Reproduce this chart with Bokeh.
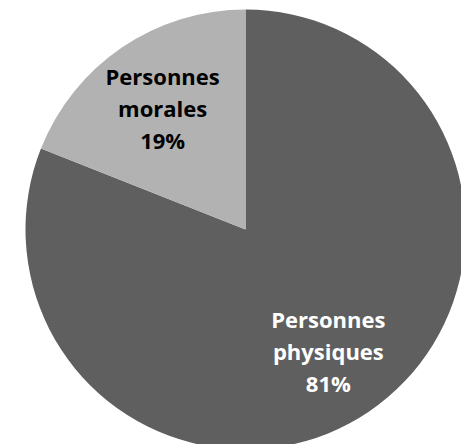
import math
from bokeh.plotting import figure
from bokeh.models import ColumnDataSource, Range1d
from bokeh.core.properties import value
from bokeh.embed import file_html
from bokeh.resources import INLINE

categories = ["Personnes physiques", "Personnes morales"]
shares = [81, 19]
label_lines = [["Personnes", "physiques", "81%"], ["Personnes", "morales", "19%"]]
colors = ["#5f5f5f", "#b2b2b2"]
text_colors = ["#ffffff", "#000000"]

W, H = 461, 444
cx, cy, R = 245, 215, 220

p = figure(width=W, height=H, output_backend="svg", toolbar_location=None,
           x_range=Range1d(0, W), y_range=Range1d(0, H), min_border=0)
p.axis.visible = False
p.grid.visible = False
p.outline_line_color = None
p.background_fill_color = "#ffffff"
p.border_fill_color = "#ffffff"

total = sum(shares)
start = math.pi / 2
starts, ends, mids = [], [], []
for s in shares:
    sweep = 2 * math.pi * s / total
    end = start - sweep
    starts.append(end)
    ends.append(start)
    mids.append((start + end) / 2)
    start = end

src = ColumnDataSource(dict(x=[cx] * len(shares), y=[cy] * len(shares),
                            start=starts, end=ends, color=colors))
p.wedge(x="x", y="y", radius=R, start_angle="start", end_angle="end",
        fill_color="color", line_color=None, source=src)

lx, ly, lt, lc, lo = [], [], [], [], []
for i, lines in enumerate(label_lines):
    mx = cx + 0.67 * R * math.cos(mids[i])
    my = cy + 0.67 * R * math.sin(mids[i])
    n = len(lines)
    for j, t in enumerate(lines):
        lx.append(mx)
        ly.append(my)
        lt.append(t)
        lc.append(text_colors[i])
        lo.append((j - (n - 1) / 2) * 32)

tsrc = ColumnDataSource(dict(x=lx, y=ly, text=lt, color=lc, yo=lo))
p.text(x="x", y="y", text="text", y_offset="yo", text_color="color",
       text_font=value("Open Sans"), text_font_style="bold", text_font_size="22px",
       text_align="center", text_baseline="middle", source=tsrc)

open("out.html", "w").write(file_html(p, INLINE))
